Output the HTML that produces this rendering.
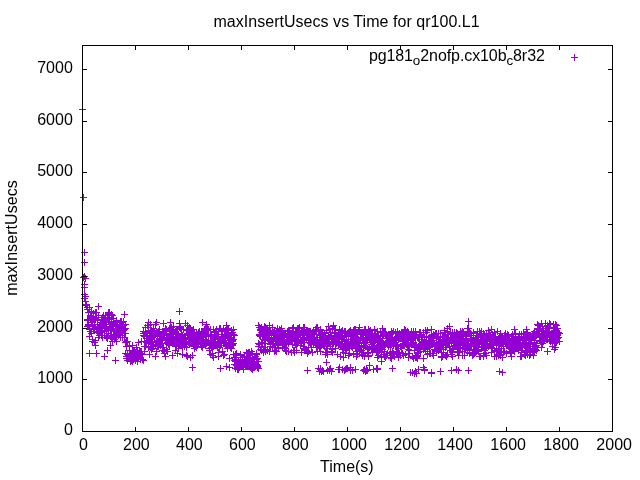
<!DOCTYPE html>
<html><head><meta charset="utf-8"><title>maxInsertUsecs vs Time for qr100.L1</title>
<style>
html,body{margin:0;padding:0;background:#fff;}
body{width:640px;height:480px;overflow:hidden;}
svg{display:block;will-change:transform;}
text{font-family:"Liberation Sans",sans-serif;font-size:16px;fill:#000;}
</style></head><body>
<svg width="640" height="480" viewBox="0 0 640 480">
<rect x="0" y="0" width="640" height="480" fill="#ffffff"/>
<text x="72.8" y="434.9" text-anchor="end">0</text>
<text x="72.8" y="382.9" text-anchor="end">1000</text>
<text x="72.8" y="331.9" text-anchor="end">2000</text>
<text x="72.8" y="279.9" text-anchor="end">3000</text>
<text x="72.8" y="227.9" text-anchor="end">4000</text>
<text x="72.8" y="175.9" text-anchor="end">5000</text>
<text x="72.8" y="124.9" text-anchor="end">6000</text>
<text x="72.8" y="72.9" text-anchor="end">7000</text>
<text x="83.4" y="450" text-anchor="middle">0</text>
<text x="136.4" y="450" text-anchor="middle">200</text>
<text x="189.4" y="450" text-anchor="middle">400</text>
<text x="242.4" y="450" text-anchor="middle">600</text>
<text x="295.4" y="450" text-anchor="middle">800</text>
<text x="349.15" y="450" text-anchor="middle">1000</text>
<text x="402.15" y="450" text-anchor="middle">1200</text>
<text x="455.15" y="450" text-anchor="middle">1400</text>
<text x="508.15" y="450" text-anchor="middle">1600</text>
<text x="561.15" y="450" text-anchor="middle">1800</text>
<text x="614.15" y="450" text-anchor="middle">2000</text>
<text x="346.55" y="27" text-anchor="middle" textLength="266.3">maxInsertUsecs vs Time for qr100.L1</text>
<text x="346.9" y="472" text-anchor="middle">Time(s)</text>
<text transform="translate(16.75,238) rotate(-90)" text-anchor="middle" textLength="115.7">maxInsertUsecs</text>
<text x="369.05" y="61" textLength="43.8">pg181</text><text x="412.85" y="64.8" style="font-size:13.4px">o</text><text x="420.28" y="61" textLength="86.3">2nofp.cx10b</text><text x="506.56" y="64.8" style="font-size:13.4px">c</text><text x="512.97" y="61">8r32</text>
<path d="M571,57.5h7M574.5,54v7M79,109.5h7M82.5,106v7M80,197.5h7M83.5,194v7M81,252.5h7M84.5,249v7M81,262.5h7M84.5,259v7M81,276.5h7M84.5,273v7M80,277.5h7M83.5,274v7M82,278.5h7M85.5,275v7M81,284.5h7M84.5,281v7M81,287.5h7M84.5,284v7M81,294.5h7M84.5,291v7M82,296.5h7M85.5,293v7M81,298.5h7M84.5,295v7M82,301.5h7M85.5,298v7M82,304.5h7M85.5,301v7M83,305.5h7M86.5,302v7M84,307.5h7M87.5,304v7M84,309.5h7M87.5,306v7M86,307.5h7M89.5,304v7M84,319.5h7M87.5,316v7M84,320.5h7M87.5,317v7M84,326.5h7M87.5,323v7M85,320.5h7M88.5,317v7M85,325.5h7M88.5,322v7M85,324.5h7M88.5,321v7M85,312.5h7M88.5,309v7M86,328.5h7M89.5,325v7M86,336.5h7M89.5,333v7M86,329.5h7M89.5,326v7M87,315.5h7M90.5,312v7M87,317.5h7M90.5,314v7M87,318.5h7M90.5,315v7M87,331.5h7M90.5,328v7M88,333.5h7M91.5,330v7M88,316.5h7M91.5,313v7M88,322.5h7M91.5,319v7M88,311.5h7M91.5,308v7M89,319.5h7M92.5,316v7M89,325.5h7M92.5,322v7M89,326.5h7M92.5,323v7M89,341.5h7M92.5,338v7M89,339.5h7M92.5,336v7M90,329.5h7M93.5,326v7M90,313.5h7M93.5,310v7M90,318.5h7M93.5,315v7M91,328.5h7M94.5,325v7M91,328.5h7M94.5,325v7M91,342.5h7M94.5,339v7M91,324.5h7M94.5,321v7M92,345.5h7M95.5,342v7M92,317.5h7M95.5,314v7M92,319.5h7M95.5,316v7M92,340.5h7M95.5,337v7M92,312.5h7M95.5,309v7M93,312.5h7M96.5,309v7M93,317.5h7M96.5,314v7M93,329.5h7M96.5,326v7M93,317.5h7M96.5,314v7M94,332.5h7M97.5,329v7M94,320.5h7M97.5,317v7M94,329.5h7M97.5,326v7M94,329.5h7M97.5,326v7M94,324.5h7M97.5,321v7M95,327.5h7M98.5,324v7M95,331.5h7M98.5,328v7M95,337.5h7M98.5,334v7M95,315.5h7M98.5,312v7M96,329.5h7M99.5,326v7M96,333.5h7M99.5,330v7M96,327.5h7M99.5,324v7M96,331.5h7M99.5,328v7M96,335.5h7M99.5,332v7M97,322.5h7M100.5,319v7M97,331.5h7M100.5,328v7M97,330.5h7M100.5,327v7M97,326.5h7M100.5,323v7M98,326.5h7M101.5,323v7M98,332.5h7M101.5,329v7M98,335.5h7M101.5,332v7M98,319.5h7M101.5,316v7M99,319.5h7M102.5,316v7M99,317.5h7M102.5,314v7M99,337.5h7M102.5,334v7M99,323.5h7M102.5,320v7M100,322.5h7M103.5,319v7M100,319.5h7M103.5,316v7M100,317.5h7M103.5,314v7M100,315.5h7M103.5,312v7M101,328.5h7M104.5,325v7M101,319.5h7M104.5,316v7M101,330.5h7M104.5,327v7M101,331.5h7M104.5,328v7M101,322.5h7M104.5,319v7M102,326.5h7M105.5,323v7M102,315.5h7M105.5,312v7M102,317.5h7M105.5,314v7M102,328.5h7M105.5,325v7M102,321.5h7M105.5,318v7M103,322.5h7M106.5,319v7M103,327.5h7M106.5,324v7M103,337.5h7M106.5,334v7M103,335.5h7M106.5,332v7M104,336.5h7M107.5,333v7M104,315.5h7M107.5,312v7M104,318.5h7M107.5,315v7M104,338.5h7M107.5,335v7M105,314.5h7M108.5,311v7M105,321.5h7M108.5,318v7M105,317.5h7M108.5,314v7M105,312.5h7M108.5,309v7M105,333.5h7M108.5,330v7M106,319.5h7M109.5,316v7M106,312.5h7M109.5,309v7M106,313.5h7M109.5,310v7M106,326.5h7M109.5,323v7M107,336.5h7M110.5,333v7M107,324.5h7M110.5,321v7M107,329.5h7M110.5,326v7M107,329.5h7M110.5,326v7M108,330.5h7M111.5,327v7M108,337.5h7M111.5,334v7M108,315.5h7M111.5,312v7M108,314.5h7M111.5,311v7M108,323.5h7M111.5,320v7M109,315.5h7M112.5,312v7M109,325.5h7M112.5,322v7M109,341.5h7M112.5,338v7M109,338.5h7M112.5,335v7M110,334.5h7M113.5,331v7M110,329.5h7M113.5,326v7M110,324.5h7M113.5,321v7M110,321.5h7M113.5,318v7M110,318.5h7M113.5,315v7M111,336.5h7M114.5,333v7M111,339.5h7M114.5,336v7M111,323.5h7M114.5,320v7M112,337.5h7M115.5,334v7M112,331.5h7M115.5,328v7M112,325.5h7M115.5,322v7M113,320.5h7M116.5,317v7M113,330.5h7M116.5,327v7M113,328.5h7M116.5,325v7M113,332.5h7M116.5,329v7M113,341.5h7M116.5,338v7M114,334.5h7M117.5,331v7M114,330.5h7M117.5,327v7M114,324.5h7M117.5,321v7M115,328.5h7M118.5,325v7M115,331.5h7M118.5,328v7M115,335.5h7M118.5,332v7M115,330.5h7M118.5,327v7M116,331.5h7M119.5,328v7M116,326.5h7M119.5,323v7M116,327.5h7M119.5,324v7M116,334.5h7M119.5,331v7M116,327.5h7M119.5,324v7M117,337.5h7M120.5,334v7M117,331.5h7M120.5,328v7M117,321.5h7M120.5,318v7M117,330.5h7M120.5,327v7M117,324.5h7M120.5,321v7M118,322.5h7M121.5,319v7M118,326.5h7M121.5,323v7M118,321.5h7M121.5,318v7M118,330.5h7M121.5,327v7M119,335.5h7M122.5,332v7M119,326.5h7M122.5,323v7M119,328.5h7M122.5,325v7M119,328.5h7M122.5,325v7M119,337.5h7M122.5,334v7M120,325.5h7M123.5,322v7M120,328.5h7M123.5,325v7M120,330.5h7M123.5,327v7M120,321.5h7M123.5,318v7M121,329.5h7M124.5,326v7M121,337.5h7M124.5,334v7M122,333.5h7M125.5,330v7M122,328.5h7M125.5,325v7M122,342.5h7M125.5,339v7M122,324.5h7M125.5,321v7M122,353.5h7M125.5,350v7M123,346.5h7M126.5,343v7M123,358.5h7M126.5,355v7M123,341.5h7M126.5,338v7M123,356.5h7M126.5,353v7M123,358.5h7M126.5,355v7M124,353.5h7M127.5,350v7M124,354.5h7M127.5,351v7M124,360.5h7M127.5,357v7M124,356.5h7M127.5,353v7M124,341.5h7M127.5,338v7M125,356.5h7M128.5,353v7M125,358.5h7M128.5,355v7M125,356.5h7M128.5,353v7M125,358.5h7M128.5,355v7M126,345.5h7M129.5,342v7M126,350.5h7M129.5,347v7M126,354.5h7M129.5,351v7M126,346.5h7M129.5,343v7M126,350.5h7M129.5,347v7M127,353.5h7M130.5,350v7M127,361.5h7M130.5,358v7M127,353.5h7M130.5,350v7M127,357.5h7M130.5,354v7M127,360.5h7M130.5,357v7M128,357.5h7M131.5,354v7M128,360.5h7M131.5,357v7M128,356.5h7M131.5,353v7M128,354.5h7M131.5,351v7M129,345.5h7M132.5,342v7M129,361.5h7M132.5,358v7M129,359.5h7M132.5,356v7M129,352.5h7M132.5,349v7M130,358.5h7M133.5,355v7M130,355.5h7M133.5,352v7M130,353.5h7M133.5,350v7M130,359.5h7M133.5,356v7M130,351.5h7M133.5,348v7M131,355.5h7M134.5,352v7M131,351.5h7M134.5,348v7M131,355.5h7M134.5,352v7M132,358.5h7M135.5,355v7M132,360.5h7M135.5,357v7M132,358.5h7M135.5,355v7M132,352.5h7M135.5,349v7M133,356.5h7M136.5,353v7M133,352.5h7M136.5,349v7M133,347.5h7M136.5,344v7M134,350.5h7M137.5,347v7M134,357.5h7M137.5,354v7M134,357.5h7M137.5,354v7M134,361.5h7M137.5,358v7M135,358.5h7M138.5,355v7M135,342.5h7M138.5,339v7M135,356.5h7M138.5,353v7M136,353.5h7M139.5,350v7M136,356.5h7M139.5,353v7M136,351.5h7M139.5,348v7M136,356.5h7M139.5,353v7M137,357.5h7M140.5,354v7M137,353.5h7M140.5,350v7M137,359.5h7M140.5,356v7M137,351.5h7M140.5,348v7M138,354.5h7M141.5,351v7M138,351.5h7M141.5,348v7M138,341.5h7M141.5,338v7M139,359.5h7M142.5,356v7M139,354.5h7M142.5,351v7M140,360.5h7M143.5,357v7M140,331.5h7M143.5,328v7M140,335.5h7M143.5,332v7M140,333.5h7M143.5,330v7M141,351.5h7M144.5,348v7M141,346.5h7M144.5,343v7M141,336.5h7M144.5,333v7M141,341.5h7M144.5,338v7M141,335.5h7M144.5,332v7M142,346.5h7M145.5,343v7M142,333.5h7M145.5,330v7M142,327.5h7M145.5,324v7M142,331.5h7M145.5,328v7M142,332.5h7M145.5,329v7M143,333.5h7M146.5,330v7M143,338.5h7M146.5,335v7M143,333.5h7M146.5,330v7M143,342.5h7M146.5,339v7M144,325.5h7M147.5,322v7M144,340.5h7M147.5,337v7M144,333.5h7M147.5,330v7M144,338.5h7M147.5,335v7M144,333.5h7M147.5,330v7M145,338.5h7M148.5,335v7M145,327.5h7M148.5,324v7M145,325.5h7M148.5,322v7M145,322.5h7M148.5,319v7M145,347.5h7M148.5,344v7M146,341.5h7M149.5,338v7M146,354.5h7M149.5,351v7M146,336.5h7M149.5,333v7M146,333.5h7M149.5,330v7M147,339.5h7M150.5,336v7M147,343.5h7M150.5,340v7M147,324.5h7M150.5,321v7M147,347.5h7M150.5,344v7M147,331.5h7M150.5,328v7M148,346.5h7M151.5,343v7M148,349.5h7M151.5,346v7M148,330.5h7M151.5,327v7M148,339.5h7M151.5,336v7M148,338.5h7M151.5,335v7M149,341.5h7M152.5,338v7M149,348.5h7M152.5,345v7M149,334.5h7M152.5,331v7M149,346.5h7M152.5,343v7M149,332.5h7M152.5,329v7M150,344.5h7M153.5,341v7M150,330.5h7M153.5,327v7M150,328.5h7M153.5,325v7M150,335.5h7M153.5,332v7M151,334.5h7M154.5,331v7M151,334.5h7M154.5,331v7M151,333.5h7M154.5,330v7M151,332.5h7M154.5,329v7M151,336.5h7M154.5,333v7M152,334.5h7M155.5,331v7M152,345.5h7M155.5,342v7M152,356.5h7M155.5,353v7M152,334.5h7M155.5,331v7M152,324.5h7M155.5,321v7M153,341.5h7M156.5,338v7M153,351.5h7M156.5,348v7M153,322.5h7M156.5,319v7M153,342.5h7M156.5,339v7M154,332.5h7M157.5,329v7M154,344.5h7M157.5,341v7M154,345.5h7M157.5,342v7M154,340.5h7M157.5,337v7M154,346.5h7M157.5,343v7M155,346.5h7M158.5,343v7M155,342.5h7M158.5,339v7M155,331.5h7M158.5,328v7M155,333.5h7M158.5,330v7M155,341.5h7M158.5,338v7M156,339.5h7M159.5,336v7M156,329.5h7M159.5,326v7M156,344.5h7M159.5,341v7M156,344.5h7M159.5,341v7M156,336.5h7M159.5,333v7M157,345.5h7M160.5,342v7M157,339.5h7M160.5,336v7M157,339.5h7M160.5,336v7M157,338.5h7M160.5,335v7M158,336.5h7M161.5,333v7M158,343.5h7M161.5,340v7M158,339.5h7M161.5,336v7M158,340.5h7M161.5,337v7M158,343.5h7M161.5,340v7M159,338.5h7M162.5,335v7M159,332.5h7M162.5,329v7M159,338.5h7M162.5,335v7M159,350.5h7M162.5,347v7M159,343.5h7M162.5,340v7M160,350.5h7M163.5,347v7M160,347.5h7M163.5,344v7M160,323.5h7M163.5,320v7M160,334.5h7M163.5,331v7M161,353.5h7M164.5,350v7M161,333.5h7M164.5,330v7M161,335.5h7M164.5,332v7M161,334.5h7M164.5,331v7M161,351.5h7M164.5,348v7M162,331.5h7M165.5,328v7M162,356.5h7M165.5,353v7M162,330.5h7M165.5,327v7M162,328.5h7M165.5,325v7M162,330.5h7M165.5,327v7M163,349.5h7M166.5,346v7M163,329.5h7M166.5,326v7M163,340.5h7M166.5,337v7M163,339.5h7M166.5,336v7M163,337.5h7M166.5,334v7M164,338.5h7M167.5,335v7M164,351.5h7M167.5,348v7M164,342.5h7M167.5,339v7M164,338.5h7M167.5,335v7M165,339.5h7M168.5,336v7M165,338.5h7M168.5,335v7M165,344.5h7M168.5,341v7M165,341.5h7M168.5,338v7M165,337.5h7M168.5,334v7M166,328.5h7M169.5,325v7M166,345.5h7M169.5,342v7M166,340.5h7M169.5,337v7M166,333.5h7M169.5,330v7M166,341.5h7M169.5,338v7M167,336.5h7M170.5,333v7M167,336.5h7M170.5,333v7M167,328.5h7M170.5,325v7M167,322.5h7M170.5,319v7M168,327.5h7M171.5,324v7M168,336.5h7M171.5,333v7M168,334.5h7M171.5,331v7M168,329.5h7M171.5,326v7M168,334.5h7M171.5,331v7M169,355.5h7M172.5,352v7M169,338.5h7M172.5,335v7M169,341.5h7M172.5,338v7M169,332.5h7M172.5,329v7M169,343.5h7M172.5,340v7M170,326.5h7M173.5,323v7M170,337.5h7M173.5,334v7M170,330.5h7M173.5,327v7M170,337.5h7M173.5,334v7M170,342.5h7M173.5,339v7M171,342.5h7M174.5,339v7M171,341.5h7M174.5,338v7M171,340.5h7M174.5,337v7M171,340.5h7M174.5,337v7M172,344.5h7M175.5,341v7M172,333.5h7M175.5,330v7M172,350.5h7M175.5,347v7M172,331.5h7M175.5,328v7M172,332.5h7M175.5,329v7M173,339.5h7M176.5,336v7M173,329.5h7M176.5,326v7M173,345.5h7M176.5,342v7M173,346.5h7M176.5,343v7M173,341.5h7M176.5,338v7M174,329.5h7M177.5,326v7M174,336.5h7M177.5,333v7M174,353.5h7M177.5,350v7M174,333.5h7M177.5,330v7M175,348.5h7M178.5,345v7M175,342.5h7M178.5,339v7M175,335.5h7M178.5,332v7M175,334.5h7M178.5,331v7M175,341.5h7M178.5,338v7M176,327.5h7M179.5,324v7M176,337.5h7M179.5,334v7M176,336.5h7M179.5,333v7M176,323.5h7M179.5,320v7M176,344.5h7M179.5,341v7M177,326.5h7M180.5,323v7M177,339.5h7M180.5,336v7M177,343.5h7M180.5,340v7M177,328.5h7M180.5,325v7M177,338.5h7M180.5,335v7M178,337.5h7M181.5,334v7M178,345.5h7M181.5,342v7M178,329.5h7M181.5,326v7M178,334.5h7M181.5,331v7M179,344.5h7M182.5,341v7M179,354.5h7M182.5,351v7M179,347.5h7M182.5,344v7M179,341.5h7M182.5,338v7M179,335.5h7M182.5,332v7M180,343.5h7M183.5,340v7M180,342.5h7M183.5,339v7M180,341.5h7M183.5,338v7M180,338.5h7M183.5,335v7M180,329.5h7M183.5,326v7M181,346.5h7M184.5,343v7M181,338.5h7M184.5,335v7M181,338.5h7M184.5,335v7M181,339.5h7M184.5,336v7M182,341.5h7M185.5,338v7M182,343.5h7M185.5,340v7M182,344.5h7M185.5,341v7M182,323.5h7M185.5,320v7M182,337.5h7M185.5,334v7M183,355.5h7M186.5,352v7M183,343.5h7M186.5,340v7M183,330.5h7M186.5,327v7M183,347.5h7M186.5,344v7M183,344.5h7M186.5,341v7M184,329.5h7M187.5,326v7M184,333.5h7M187.5,330v7M184,335.5h7M187.5,332v7M184,325.5h7M187.5,322v7M184,356.5h7M187.5,353v7M185,334.5h7M188.5,331v7M185,335.5h7M188.5,332v7M185,329.5h7M188.5,326v7M185,342.5h7M188.5,339v7M186,344.5h7M189.5,341v7M186,330.5h7M189.5,327v7M186,327.5h7M189.5,324v7M186,337.5h7M189.5,334v7M186,333.5h7M189.5,330v7M187,339.5h7M190.5,336v7M187,330.5h7M190.5,327v7M187,328.5h7M190.5,325v7M187,357.5h7M190.5,354v7M187,343.5h7M190.5,340v7M188,343.5h7M191.5,340v7M188,336.5h7M191.5,333v7M188,336.5h7M191.5,333v7M188,337.5h7M191.5,334v7M188,331.5h7M191.5,328v7M189,340.5h7M192.5,337v7M189,355.5h7M192.5,352v7M189,335.5h7M192.5,332v7M189,335.5h7M192.5,332v7M190,329.5h7M193.5,326v7M190,337.5h7M193.5,334v7M190,345.5h7M193.5,342v7M190,335.5h7M193.5,332v7M190,340.5h7M193.5,337v7M191,343.5h7M194.5,340v7M191,346.5h7M194.5,343v7M191,332.5h7M194.5,329v7M191,342.5h7M194.5,339v7M191,348.5h7M194.5,345v7M192,339.5h7M195.5,336v7M192,335.5h7M195.5,332v7M192,338.5h7M195.5,335v7M192,346.5h7M195.5,343v7M193,339.5h7M196.5,336v7M193,338.5h7M196.5,335v7M193,332.5h7M196.5,329v7M193,347.5h7M196.5,344v7M193,342.5h7M196.5,339v7M194,341.5h7M197.5,338v7M194,343.5h7M197.5,340v7M194,335.5h7M197.5,332v7M194,339.5h7M197.5,336v7M194,336.5h7M197.5,333v7M195,342.5h7M198.5,339v7M195,332.5h7M198.5,329v7M195,341.5h7M198.5,338v7M195,341.5h7M198.5,338v7M195,336.5h7M198.5,333v7M196,331.5h7M199.5,328v7M196,337.5h7M199.5,334v7M196,337.5h7M199.5,334v7M196,341.5h7M199.5,338v7M197,334.5h7M200.5,331v7M197,335.5h7M200.5,332v7M197,339.5h7M200.5,336v7M197,337.5h7M200.5,334v7M197,344.5h7M200.5,341v7M198,331.5h7M201.5,328v7M198,339.5h7M201.5,336v7M198,346.5h7M201.5,343v7M198,343.5h7M201.5,340v7M198,335.5h7M201.5,332v7M199,331.5h7M202.5,328v7M199,347.5h7M202.5,344v7M199,322.5h7M202.5,319v7M199,340.5h7M202.5,337v7M200,331.5h7M203.5,328v7M200,337.5h7M203.5,334v7M200,341.5h7M203.5,338v7M200,336.5h7M203.5,333v7M200,336.5h7M203.5,333v7M201,329.5h7M204.5,326v7M201,329.5h7M204.5,326v7M201,344.5h7M204.5,341v7M201,333.5h7M204.5,330v7M201,344.5h7M204.5,341v7M202,328.5h7M205.5,325v7M202,336.5h7M205.5,333v7M202,344.5h7M205.5,341v7M202,345.5h7M205.5,342v7M202,335.5h7M205.5,332v7M203,343.5h7M206.5,340v7M203,334.5h7M206.5,331v7M203,336.5h7M206.5,333v7M203,324.5h7M206.5,321v7M204,330.5h7M207.5,327v7M204,330.5h7M207.5,327v7M204,330.5h7M207.5,327v7M204,342.5h7M207.5,339v7M204,328.5h7M207.5,325v7M205,335.5h7M208.5,332v7M205,335.5h7M208.5,332v7M205,341.5h7M208.5,338v7M205,340.5h7M208.5,337v7M205,329.5h7M208.5,326v7M206,348.5h7M209.5,345v7M206,350.5h7M209.5,347v7M206,343.5h7M209.5,340v7M206,345.5h7M209.5,342v7M207,354.5h7M210.5,351v7M207,336.5h7M210.5,333v7M207,334.5h7M210.5,331v7M207,341.5h7M210.5,338v7M207,329.5h7M210.5,326v7M208,347.5h7M211.5,344v7M208,335.5h7M211.5,332v7M208,345.5h7M211.5,342v7M208,342.5h7M211.5,339v7M208,334.5h7M211.5,331v7M209,353.5h7M212.5,350v7M209,355.5h7M212.5,352v7M209,341.5h7M212.5,338v7M209,347.5h7M212.5,344v7M209,348.5h7M212.5,345v7M210,357.5h7M213.5,354v7M210,341.5h7M213.5,338v7M210,329.5h7M213.5,326v7M210,346.5h7M213.5,343v7M211,338.5h7M214.5,335v7M211,344.5h7M214.5,341v7M211,332.5h7M214.5,329v7M211,337.5h7M214.5,334v7M211,344.5h7M214.5,341v7M212,331.5h7M215.5,328v7M212,341.5h7M215.5,338v7M212,343.5h7M215.5,340v7M212,337.5h7M215.5,334v7M212,344.5h7M215.5,341v7M213,334.5h7M216.5,331v7M213,336.5h7M216.5,333v7M213,345.5h7M216.5,342v7M213,329.5h7M216.5,326v7M214,347.5h7M217.5,344v7M214,336.5h7M217.5,333v7M214,342.5h7M217.5,339v7M214,346.5h7M217.5,343v7M214,345.5h7M217.5,342v7M215,356.5h7M218.5,353v7M215,331.5h7M218.5,328v7M215,337.5h7M218.5,334v7M215,341.5h7M218.5,338v7M215,352.5h7M218.5,349v7M216,341.5h7M219.5,338v7M216,345.5h7M219.5,342v7M216,347.5h7M219.5,344v7M216,328.5h7M219.5,325v7M216,343.5h7M219.5,340v7M217,328.5h7M220.5,325v7M217,342.5h7M220.5,339v7M217,345.5h7M220.5,342v7M217,341.5h7M220.5,338v7M218,338.5h7M221.5,335v7M218,343.5h7M221.5,340v7M218,331.5h7M221.5,328v7M218,334.5h7M221.5,331v7M218,339.5h7M221.5,336v7M219,336.5h7M222.5,333v7M219,336.5h7M222.5,333v7M219,334.5h7M222.5,331v7M219,351.5h7M222.5,348v7M219,331.5h7M222.5,328v7M220,328.5h7M223.5,325v7M220,342.5h7M223.5,339v7M220,343.5h7M223.5,340v7M220,355.5h7M223.5,352v7M221,340.5h7M224.5,337v7M221,335.5h7M224.5,332v7M221,336.5h7M224.5,333v7M221,342.5h7M224.5,339v7M221,354.5h7M224.5,351v7M222,331.5h7M225.5,328v7M222,337.5h7M225.5,334v7M222,345.5h7M225.5,342v7M222,338.5h7M225.5,335v7M222,330.5h7M225.5,327v7M223,344.5h7M226.5,341v7M223,325.5h7M226.5,322v7M223,334.5h7M226.5,331v7M223,329.5h7M226.5,326v7M223,345.5h7M226.5,342v7M224,346.5h7M227.5,343v7M224,337.5h7M227.5,334v7M224,329.5h7M227.5,326v7M224,348.5h7M227.5,345v7M225,333.5h7M228.5,330v7M225,338.5h7M228.5,335v7M225,342.5h7M228.5,339v7M225,328.5h7M228.5,325v7M225,334.5h7M228.5,331v7M226,335.5h7M229.5,332v7M226,358.5h7M229.5,355v7M226,344.5h7M229.5,341v7M226,337.5h7M229.5,334v7M226,344.5h7M229.5,341v7M227,337.5h7M230.5,334v7M227,339.5h7M230.5,336v7M227,347.5h7M230.5,344v7M227,342.5h7M230.5,339v7M228,330.5h7M231.5,327v7M228,340.5h7M231.5,337v7M228,333.5h7M231.5,330v7M228,348.5h7M231.5,345v7M228,334.5h7M231.5,331v7M229,340.5h7M232.5,337v7M229,341.5h7M232.5,338v7M229,345.5h7M232.5,342v7M229,344.5h7M232.5,341v7M229,332.5h7M232.5,329v7M230,354.5h7M233.5,351v7M230,329.5h7M233.5,326v7M230,334.5h7M233.5,331v7M230,339.5h7M233.5,336v7M230,343.5h7M233.5,340v7M231,335.5h7M234.5,332v7M231,360.5h7M234.5,357v7M231,364.5h7M234.5,361v7M231,357.5h7M234.5,354v7M232,359.5h7M235.5,356v7M232,354.5h7M235.5,351v7M232,361.5h7M235.5,358v7M232,354.5h7M235.5,351v7M232,368.5h7M235.5,365v7M233,364.5h7M236.5,361v7M233,353.5h7M236.5,350v7M233,361.5h7M236.5,358v7M233,355.5h7M236.5,352v7M233,365.5h7M236.5,362v7M234,369.5h7M237.5,366v7M234,363.5h7M237.5,360v7M234,367.5h7M237.5,364v7M234,369.5h7M237.5,366v7M235,369.5h7M238.5,366v7M235,360.5h7M238.5,357v7M235,361.5h7M238.5,358v7M235,368.5h7M238.5,365v7M235,367.5h7M238.5,364v7M236,367.5h7M239.5,364v7M236,365.5h7M239.5,362v7M236,365.5h7M239.5,362v7M236,367.5h7M239.5,364v7M236,362.5h7M239.5,359v7M237,366.5h7M240.5,363v7M237,354.5h7M240.5,351v7M237,355.5h7M240.5,352v7M237,357.5h7M240.5,354v7M237,357.5h7M240.5,354v7M238,364.5h7M241.5,361v7M238,363.5h7M241.5,360v7M238,366.5h7M241.5,363v7M238,365.5h7M241.5,362v7M239,364.5h7M242.5,361v7M239,364.5h7M242.5,361v7M239,359.5h7M242.5,356v7M239,366.5h7M242.5,363v7M239,366.5h7M242.5,363v7M240,369.5h7M243.5,366v7M240,363.5h7M243.5,360v7M240,366.5h7M243.5,363v7M240,367.5h7M243.5,364v7M240,363.5h7M243.5,360v7M241,364.5h7M244.5,361v7M241,363.5h7M244.5,360v7M241,356.5h7M244.5,353v7M241,361.5h7M244.5,358v7M241,364.5h7M244.5,361v7M242,361.5h7M245.5,358v7M242,360.5h7M245.5,357v7M242,365.5h7M245.5,362v7M242,363.5h7M245.5,360v7M243,362.5h7M246.5,359v7M243,366.5h7M246.5,363v7M243,359.5h7M246.5,356v7M243,352.5h7M246.5,349v7M243,361.5h7M246.5,358v7M244,361.5h7M247.5,358v7M244,366.5h7M247.5,363v7M244,359.5h7M247.5,356v7M244,366.5h7M247.5,363v7M244,353.5h7M247.5,350v7M245,359.5h7M248.5,356v7M245,352.5h7M248.5,349v7M245,366.5h7M248.5,363v7M245,366.5h7M248.5,363v7M246,352.5h7M249.5,349v7M246,357.5h7M249.5,354v7M246,355.5h7M249.5,352v7M246,365.5h7M249.5,362v7M246,366.5h7M249.5,363v7M247,367.5h7M250.5,364v7M247,365.5h7M250.5,362v7M247,357.5h7M250.5,354v7M247,366.5h7M250.5,363v7M247,364.5h7M250.5,361v7M248,351.5h7M251.5,348v7M248,361.5h7M251.5,358v7M248,368.5h7M251.5,365v7M248,367.5h7M251.5,364v7M248,360.5h7M251.5,357v7M249,369.5h7M252.5,366v7M249,364.5h7M252.5,361v7M249,353.5h7M252.5,350v7M249,357.5h7M252.5,354v7M250,362.5h7M253.5,359v7M250,367.5h7M253.5,364v7M250,364.5h7M253.5,361v7M250,366.5h7M253.5,363v7M250,364.5h7M253.5,361v7M251,358.5h7M254.5,355v7M251,367.5h7M254.5,364v7M251,361.5h7M254.5,358v7M251,362.5h7M254.5,359v7M251,362.5h7M254.5,359v7M252,364.5h7M255.5,361v7M252,366.5h7M255.5,363v7M252,364.5h7M255.5,361v7M252,356.5h7M255.5,353v7M253,364.5h7M256.5,361v7M253,354.5h7M256.5,351v7M253,365.5h7M256.5,362v7M253,359.5h7M256.5,356v7M253,353.5h7M256.5,350v7M254,366.5h7M257.5,363v7M254,367.5h7M257.5,364v7M254,365.5h7M257.5,362v7M254,358.5h7M257.5,355v7M254,367.5h7M257.5,364v7M255,361.5h7M258.5,358v7M255,368.5h7M258.5,365v7M255,346.5h7M258.5,343v7M255,325.5h7M258.5,322v7M255,343.5h7M258.5,340v7M256,327.5h7M259.5,324v7M256,335.5h7M259.5,332v7M256,334.5h7M259.5,331v7M256,344.5h7M259.5,341v7M257,329.5h7M260.5,326v7M257,330.5h7M260.5,327v7M257,349.5h7M260.5,346v7M257,335.5h7M260.5,332v7M257,336.5h7M260.5,333v7M258,342.5h7M261.5,339v7M258,346.5h7M261.5,343v7M258,327.5h7M261.5,324v7M258,350.5h7M261.5,347v7M258,332.5h7M261.5,329v7M259,336.5h7M262.5,333v7M259,342.5h7M262.5,339v7M259,329.5h7M262.5,326v7M259,330.5h7M262.5,327v7M260,329.5h7M263.5,326v7M260,336.5h7M263.5,333v7M260,352.5h7M263.5,349v7M260,350.5h7M263.5,347v7M260,331.5h7M263.5,328v7M261,347.5h7M264.5,344v7M261,336.5h7M264.5,333v7M261,340.5h7M264.5,337v7M261,334.5h7M264.5,331v7M261,326.5h7M264.5,323v7M262,343.5h7M265.5,340v7M262,339.5h7M265.5,336v7M262,328.5h7M265.5,325v7M262,351.5h7M265.5,348v7M262,327.5h7M265.5,324v7M263,335.5h7M266.5,332v7M263,336.5h7M266.5,333v7M263,329.5h7M266.5,326v7M263,336.5h7M266.5,333v7M264,349.5h7M267.5,346v7M264,332.5h7M267.5,329v7M264,335.5h7M267.5,332v7M264,350.5h7M267.5,347v7M264,333.5h7M267.5,330v7M265,334.5h7M268.5,331v7M265,331.5h7M268.5,328v7M265,339.5h7M268.5,336v7M265,337.5h7M268.5,334v7M265,337.5h7M268.5,334v7M266,339.5h7M269.5,336v7M266,333.5h7M269.5,330v7M266,351.5h7M269.5,348v7M266,325.5h7M269.5,322v7M267,341.5h7M270.5,338v7M267,346.5h7M270.5,343v7M267,341.5h7M270.5,338v7M267,344.5h7M270.5,341v7M267,330.5h7M270.5,327v7M268,337.5h7M271.5,334v7M268,339.5h7M271.5,336v7M268,339.5h7M271.5,336v7M268,333.5h7M271.5,330v7M268,339.5h7M271.5,336v7M269,347.5h7M272.5,344v7M269,327.5h7M272.5,324v7M269,343.5h7M272.5,340v7M269,347.5h7M272.5,344v7M269,332.5h7M272.5,329v7M270,338.5h7M273.5,335v7M270,343.5h7M273.5,340v7M270,334.5h7M273.5,331v7M270,332.5h7M273.5,329v7M271,332.5h7M274.5,329v7M271,331.5h7M274.5,328v7M271,347.5h7M274.5,344v7M271,351.5h7M274.5,348v7M271,335.5h7M274.5,332v7M272,350.5h7M275.5,347v7M272,335.5h7M275.5,332v7M272,337.5h7M275.5,334v7M272,345.5h7M275.5,342v7M272,333.5h7M275.5,330v7M273,341.5h7M276.5,338v7M273,351.5h7M276.5,348v7M273,332.5h7M276.5,329v7M273,337.5h7M276.5,334v7M274,333.5h7M277.5,330v7M274,343.5h7M277.5,340v7M274,328.5h7M277.5,325v7M274,340.5h7M277.5,337v7M274,335.5h7M277.5,332v7M275,340.5h7M278.5,337v7M275,340.5h7M278.5,337v7M275,348.5h7M278.5,345v7M275,345.5h7M278.5,342v7M275,340.5h7M278.5,337v7M276,329.5h7M279.5,326v7M276,342.5h7M279.5,339v7M276,329.5h7M279.5,326v7M276,341.5h7M279.5,338v7M276,333.5h7M279.5,330v7M277,330.5h7M280.5,327v7M277,337.5h7M280.5,334v7M277,340.5h7M280.5,337v7M277,334.5h7M280.5,331v7M278,328.5h7M281.5,325v7M278,336.5h7M281.5,333v7M278,336.5h7M281.5,333v7M278,331.5h7M281.5,328v7M278,334.5h7M281.5,331v7M279,345.5h7M282.5,342v7M279,334.5h7M282.5,331v7M279,335.5h7M282.5,332v7M279,340.5h7M282.5,337v7M279,347.5h7M282.5,344v7M280,334.5h7M283.5,331v7M280,339.5h7M283.5,336v7M280,344.5h7M283.5,341v7M280,342.5h7M283.5,339v7M281,333.5h7M284.5,330v7M281,343.5h7M284.5,340v7M281,348.5h7M284.5,345v7M281,347.5h7M284.5,344v7M281,341.5h7M284.5,338v7M282,334.5h7M285.5,331v7M282,343.5h7M285.5,340v7M282,350.5h7M285.5,347v7M282,333.5h7M285.5,330v7M282,343.5h7M285.5,340v7M283,344.5h7M286.5,341v7M283,340.5h7M286.5,337v7M283,337.5h7M286.5,334v7M283,341.5h7M286.5,338v7M283,351.5h7M286.5,348v7M284,334.5h7M287.5,331v7M284,337.5h7M287.5,334v7M284,331.5h7M287.5,328v7M284,341.5h7M287.5,338v7M285,335.5h7M288.5,332v7M285,341.5h7M288.5,338v7M285,330.5h7M288.5,327v7M285,351.5h7M288.5,348v7M285,343.5h7M288.5,340v7M286,333.5h7M289.5,330v7M286,334.5h7M289.5,331v7M286,339.5h7M289.5,336v7M286,334.5h7M289.5,331v7M286,330.5h7M289.5,327v7M287,334.5h7M290.5,331v7M287,341.5h7M290.5,338v7M287,338.5h7M290.5,335v7M287,335.5h7M290.5,332v7M288,337.5h7M291.5,334v7M288,341.5h7M291.5,338v7M288,333.5h7M291.5,330v7M288,337.5h7M291.5,334v7M288,352.5h7M291.5,349v7M289,328.5h7M292.5,325v7M289,340.5h7M292.5,337v7M289,337.5h7M292.5,334v7M289,334.5h7M292.5,331v7M289,344.5h7M292.5,341v7M290,335.5h7M293.5,332v7M290,350.5h7M293.5,347v7M290,327.5h7M293.5,324v7M290,334.5h7M293.5,331v7M290,336.5h7M293.5,333v7M291,341.5h7M294.5,338v7M291,352.5h7M294.5,349v7M291,340.5h7M294.5,337v7M291,350.5h7M294.5,347v7M292,339.5h7M295.5,336v7M292,332.5h7M295.5,329v7M292,340.5h7M295.5,337v7M292,344.5h7M295.5,341v7M292,338.5h7M295.5,335v7M293,345.5h7M296.5,342v7M293,350.5h7M296.5,347v7M293,331.5h7M296.5,328v7M293,341.5h7M296.5,338v7M293,340.5h7M296.5,337v7M294,343.5h7M297.5,340v7M294,342.5h7M297.5,339v7M294,328.5h7M297.5,325v7M294,339.5h7M297.5,336v7M294,337.5h7M297.5,334v7M295,333.5h7M298.5,330v7M295,328.5h7M298.5,325v7M295,331.5h7M298.5,328v7M295,340.5h7M298.5,337v7M296,331.5h7M299.5,328v7M296,334.5h7M299.5,331v7M296,334.5h7M299.5,331v7M296,327.5h7M299.5,324v7M296,330.5h7M299.5,327v7M297,345.5h7M300.5,342v7M297,339.5h7M300.5,336v7M297,340.5h7M300.5,337v7M297,342.5h7M300.5,339v7M297,337.5h7M300.5,334v7M298,332.5h7M301.5,329v7M298,341.5h7M301.5,338v7M298,342.5h7M301.5,339v7M298,352.5h7M301.5,349v7M299,330.5h7M302.5,327v7M299,340.5h7M302.5,337v7M299,334.5h7M302.5,331v7M299,332.5h7M302.5,329v7M299,340.5h7M302.5,337v7M300,346.5h7M303.5,343v7M300,335.5h7M303.5,332v7M300,327.5h7M303.5,324v7M300,330.5h7M303.5,327v7M300,335.5h7M303.5,332v7M301,327.5h7M304.5,324v7M301,348.5h7M304.5,345v7M301,339.5h7M304.5,336v7M301,342.5h7M304.5,339v7M301,337.5h7M304.5,334v7M302,350.5h7M305.5,347v7M302,332.5h7M305.5,329v7M302,349.5h7M305.5,346v7M302,350.5h7M305.5,347v7M303,338.5h7M306.5,335v7M303,337.5h7M306.5,334v7M303,330.5h7M306.5,327v7M303,335.5h7M306.5,332v7M303,350.5h7M306.5,347v7M304,333.5h7M307.5,330v7M304,335.5h7M307.5,332v7M304,353.5h7M307.5,350v7M304,337.5h7M307.5,334v7M304,331.5h7M307.5,328v7M305,351.5h7M308.5,348v7M305,331.5h7M308.5,328v7M305,342.5h7M308.5,339v7M305,347.5h7M308.5,344v7M306,337.5h7M309.5,334v7M306,336.5h7M309.5,333v7M306,342.5h7M309.5,339v7M306,335.5h7M309.5,332v7M306,331.5h7M309.5,328v7M307,334.5h7M310.5,331v7M307,338.5h7M310.5,335v7M307,331.5h7M310.5,328v7M307,343.5h7M310.5,340v7M307,335.5h7M310.5,332v7M308,336.5h7M311.5,333v7M308,339.5h7M311.5,336v7M308,347.5h7M311.5,344v7M308,347.5h7M311.5,344v7M308,341.5h7M311.5,338v7M309,333.5h7M312.5,330v7M309,338.5h7M312.5,335v7M309,352.5h7M312.5,349v7M309,339.5h7M312.5,336v7M310,337.5h7M313.5,334v7M310,332.5h7M313.5,329v7M310,344.5h7M313.5,341v7M310,330.5h7M313.5,327v7M310,334.5h7M313.5,331v7M311,342.5h7M314.5,339v7M311,342.5h7M314.5,339v7M311,339.5h7M314.5,336v7M311,342.5h7M314.5,339v7M311,338.5h7M314.5,335v7M312,331.5h7M315.5,328v7M312,329.5h7M315.5,326v7M312,344.5h7M315.5,341v7M312,329.5h7M315.5,326v7M313,337.5h7M316.5,334v7M313,327.5h7M316.5,324v7M313,347.5h7M316.5,344v7M313,340.5h7M316.5,337v7M313,331.5h7M316.5,328v7M314,340.5h7M317.5,337v7M314,337.5h7M317.5,334v7M314,351.5h7M317.5,348v7M314,327.5h7M317.5,324v7M314,337.5h7M317.5,334v7M315,345.5h7M318.5,342v7M315,331.5h7M318.5,328v7M315,331.5h7M318.5,328v7M315,330.5h7M318.5,327v7M315,331.5h7M318.5,328v7M316,341.5h7M319.5,338v7M316,347.5h7M319.5,344v7M316,340.5h7M319.5,337v7M316,335.5h7M319.5,332v7M317,351.5h7M320.5,348v7M317,342.5h7M320.5,339v7M317,346.5h7M320.5,343v7M317,329.5h7M320.5,326v7M317,334.5h7M320.5,331v7M318,339.5h7M321.5,336v7M318,343.5h7M321.5,340v7M318,345.5h7M321.5,342v7M318,342.5h7M321.5,339v7M318,334.5h7M321.5,331v7M319,342.5h7M322.5,339v7M319,334.5h7M322.5,331v7M319,332.5h7M322.5,329v7M319,338.5h7M322.5,335v7M320,342.5h7M323.5,339v7M320,335.5h7M323.5,332v7M320,342.5h7M323.5,339v7M320,335.5h7M323.5,332v7M320,345.5h7M323.5,342v7M321,346.5h7M324.5,343v7M321,344.5h7M324.5,341v7M321,346.5h7M324.5,343v7M321,340.5h7M324.5,337v7M321,333.5h7M324.5,330v7M322,354.5h7M325.5,351v7M322,336.5h7M325.5,333v7M322,338.5h7M325.5,335v7M322,352.5h7M325.5,349v7M322,341.5h7M325.5,338v7M323,330.5h7M326.5,327v7M323,352.5h7M326.5,349v7M323,346.5h7M326.5,343v7M323,341.5h7M326.5,338v7M324,354.5h7M327.5,351v7M324,345.5h7M327.5,342v7M324,343.5h7M327.5,340v7M324,348.5h7M327.5,345v7M324,352.5h7M327.5,349v7M325,326.5h7M328.5,323v7M325,337.5h7M328.5,334v7M325,341.5h7M328.5,338v7M325,339.5h7M328.5,336v7M325,335.5h7M328.5,332v7M326,329.5h7M329.5,326v7M326,342.5h7M329.5,339v7M326,337.5h7M329.5,334v7M326,339.5h7M329.5,336v7M327,346.5h7M330.5,343v7M327,344.5h7M330.5,341v7M327,332.5h7M330.5,329v7M327,336.5h7M330.5,333v7M327,344.5h7M330.5,341v7M328,339.5h7M331.5,336v7M328,351.5h7M331.5,348v7M328,336.5h7M331.5,333v7M328,338.5h7M331.5,335v7M328,341.5h7M331.5,338v7M329,341.5h7M332.5,338v7M329,352.5h7M332.5,349v7M329,349.5h7M332.5,346v7M329,328.5h7M332.5,325v7M329,344.5h7M332.5,341v7M330,325.5h7M333.5,322v7M330,343.5h7M333.5,340v7M330,343.5h7M333.5,340v7M330,343.5h7M333.5,340v7M331,337.5h7M334.5,334v7M331,333.5h7M334.5,330v7M331,339.5h7M334.5,336v7M331,329.5h7M334.5,326v7M331,335.5h7M334.5,332v7M332,348.5h7M335.5,345v7M332,337.5h7M335.5,334v7M332,329.5h7M335.5,326v7M332,344.5h7M335.5,341v7M332,337.5h7M335.5,334v7M333,342.5h7M336.5,339v7M333,343.5h7M336.5,340v7M333,335.5h7M336.5,332v7M333,335.5h7M336.5,332v7M334,335.5h7M337.5,332v7M334,341.5h7M337.5,338v7M334,335.5h7M337.5,332v7M334,336.5h7M337.5,333v7M334,354.5h7M337.5,351v7M335,345.5h7M338.5,342v7M335,338.5h7M338.5,335v7M335,343.5h7M338.5,340v7M335,333.5h7M338.5,330v7M335,343.5h7M338.5,340v7M336,330.5h7M339.5,327v7M336,329.5h7M339.5,326v7M336,334.5h7M339.5,331v7M336,343.5h7M339.5,340v7M336,334.5h7M339.5,331v7M337,336.5h7M340.5,333v7M337,356.5h7M340.5,353v7M337,344.5h7M340.5,341v7M337,332.5h7M340.5,329v7M338,333.5h7M341.5,330v7M338,338.5h7M341.5,335v7M338,344.5h7M341.5,341v7M338,331.5h7M341.5,328v7M338,343.5h7M341.5,340v7M339,347.5h7M342.5,344v7M339,337.5h7M342.5,334v7M339,349.5h7M342.5,346v7M339,330.5h7M342.5,327v7M339,339.5h7M342.5,336v7M340,348.5h7M343.5,345v7M340,357.5h7M343.5,354v7M340,349.5h7M343.5,346v7M340,352.5h7M343.5,349v7M341,341.5h7M344.5,338v7M341,335.5h7M344.5,332v7M341,347.5h7M344.5,344v7M341,331.5h7M344.5,328v7M341,340.5h7M344.5,337v7M342,353.5h7M345.5,350v7M342,346.5h7M345.5,343v7M342,343.5h7M345.5,340v7M342,343.5h7M345.5,340v7M342,331.5h7M345.5,328v7M343,336.5h7M346.5,333v7M343,341.5h7M346.5,338v7M343,343.5h7M346.5,340v7M343,335.5h7M346.5,332v7M343,350.5h7M346.5,347v7M344,347.5h7M347.5,344v7M344,344.5h7M347.5,341v7M344,333.5h7M347.5,330v7M344,346.5h7M347.5,343v7M345,355.5h7M348.5,352v7M345,346.5h7M348.5,343v7M345,339.5h7M348.5,336v7M345,332.5h7M348.5,329v7M345,343.5h7M348.5,340v7M346,353.5h7M349.5,350v7M346,331.5h7M349.5,328v7M346,344.5h7M349.5,341v7M346,348.5h7M349.5,345v7M346,348.5h7M349.5,345v7M347,345.5h7M350.5,342v7M347,343.5h7M350.5,340v7M347,336.5h7M350.5,333v7M347,336.5h7M350.5,333v7M347,330.5h7M350.5,327v7M348,339.5h7M351.5,336v7M348,334.5h7M351.5,331v7M348,346.5h7M351.5,343v7M348,339.5h7M351.5,336v7M349,334.5h7M352.5,331v7M349,336.5h7M352.5,333v7M349,347.5h7M352.5,344v7M349,339.5h7M352.5,336v7M349,342.5h7M352.5,339v7M350,330.5h7M353.5,327v7M350,332.5h7M353.5,329v7M350,338.5h7M353.5,335v7M350,341.5h7M353.5,338v7M350,354.5h7M353.5,351v7M351,335.5h7M354.5,332v7M351,344.5h7M354.5,341v7M351,338.5h7M354.5,335v7M351,329.5h7M354.5,326v7M352,340.5h7M355.5,337v7M352,346.5h7M355.5,343v7M352,346.5h7M355.5,343v7M352,348.5h7M355.5,345v7M352,329.5h7M355.5,326v7M353,333.5h7M356.5,330v7M353,356.5h7M356.5,353v7M353,353.5h7M356.5,350v7M353,334.5h7M356.5,331v7M353,351.5h7M356.5,348v7M354,338.5h7M357.5,335v7M354,334.5h7M357.5,331v7M354,346.5h7M357.5,343v7M354,354.5h7M357.5,351v7M354,347.5h7M357.5,344v7M355,339.5h7M358.5,336v7M355,342.5h7M358.5,339v7M355,330.5h7M358.5,327v7M355,330.5h7M358.5,327v7M356,330.5h7M359.5,327v7M356,343.5h7M359.5,340v7M356,345.5h7M359.5,342v7M356,350.5h7M359.5,347v7M356,327.5h7M359.5,324v7M357,338.5h7M360.5,335v7M357,349.5h7M360.5,346v7M357,332.5h7M360.5,329v7M357,337.5h7M360.5,334v7M357,339.5h7M360.5,336v7M358,346.5h7M361.5,343v7M358,334.5h7M361.5,331v7M358,350.5h7M361.5,347v7M358,337.5h7M361.5,334v7M359,354.5h7M362.5,351v7M359,337.5h7M362.5,334v7M359,337.5h7M362.5,334v7M359,355.5h7M362.5,352v7M359,339.5h7M362.5,336v7M360,352.5h7M363.5,349v7M360,333.5h7M363.5,330v7M360,347.5h7M363.5,344v7M360,340.5h7M363.5,337v7M360,347.5h7M363.5,344v7M361,343.5h7M364.5,340v7M361,331.5h7M364.5,328v7M361,340.5h7M364.5,337v7M361,329.5h7M364.5,326v7M361,356.5h7M364.5,353v7M362,338.5h7M365.5,335v7M362,346.5h7M365.5,343v7M362,329.5h7M365.5,326v7M362,342.5h7M365.5,339v7M363,346.5h7M366.5,343v7M363,333.5h7M366.5,330v7M363,332.5h7M366.5,329v7M363,340.5h7M366.5,337v7M363,337.5h7M366.5,334v7M364,335.5h7M367.5,332v7M364,348.5h7M367.5,345v7M364,334.5h7M367.5,331v7M364,340.5h7M367.5,337v7M364,353.5h7M367.5,350v7M365,352.5h7M368.5,349v7M365,355.5h7M368.5,352v7M365,329.5h7M368.5,326v7M365,356.5h7M368.5,353v7M366,339.5h7M369.5,336v7M366,334.5h7M369.5,331v7M366,332.5h7M369.5,329v7M366,331.5h7M369.5,328v7M366,347.5h7M369.5,344v7M367,330.5h7M370.5,327v7M367,340.5h7M370.5,337v7M367,335.5h7M370.5,332v7M367,336.5h7M370.5,333v7M367,337.5h7M370.5,334v7M368,337.5h7M371.5,334v7M368,344.5h7M371.5,341v7M368,349.5h7M371.5,346v7M368,348.5h7M371.5,345v7M368,337.5h7M371.5,334v7M369,340.5h7M372.5,337v7M369,335.5h7M372.5,332v7M369,347.5h7M372.5,344v7M369,352.5h7M372.5,349v7M370,349.5h7M373.5,346v7M370,337.5h7M373.5,334v7M370,346.5h7M373.5,343v7M370,348.5h7M373.5,345v7M370,339.5h7M373.5,336v7M371,329.5h7M374.5,326v7M371,347.5h7M374.5,344v7M371,333.5h7M374.5,330v7M371,330.5h7M374.5,327v7M371,341.5h7M374.5,338v7M372,335.5h7M375.5,332v7M372,335.5h7M375.5,332v7M372,349.5h7M375.5,346v7M372,340.5h7M375.5,337v7M373,337.5h7M376.5,334v7M373,352.5h7M376.5,349v7M373,338.5h7M376.5,335v7M373,348.5h7M376.5,345v7M373,348.5h7M376.5,345v7M374,347.5h7M377.5,344v7M374,342.5h7M377.5,339v7M374,351.5h7M377.5,348v7M374,357.5h7M377.5,354v7M374,331.5h7M377.5,328v7M375,335.5h7M378.5,332v7M375,355.5h7M378.5,352v7M375,345.5h7M378.5,342v7M375,348.5h7M378.5,345v7M375,339.5h7M378.5,336v7M376,350.5h7M379.5,347v7M376,344.5h7M379.5,341v7M376,344.5h7M379.5,341v7M376,341.5h7M379.5,338v7M377,332.5h7M380.5,329v7M377,343.5h7M380.5,340v7M377,340.5h7M380.5,337v7M377,336.5h7M380.5,333v7M377,341.5h7M380.5,338v7M378,341.5h7M381.5,338v7M378,348.5h7M381.5,345v7M378,352.5h7M381.5,349v7M378,356.5h7M381.5,353v7M378,342.5h7M381.5,339v7M379,349.5h7M382.5,346v7M379,338.5h7M382.5,335v7M379,346.5h7M382.5,343v7M379,328.5h7M382.5,325v7M380,334.5h7M383.5,331v7M380,331.5h7M383.5,328v7M380,344.5h7M383.5,341v7M380,354.5h7M383.5,351v7M380,354.5h7M383.5,351v7M381,332.5h7M384.5,329v7M381,356.5h7M384.5,353v7M381,333.5h7M384.5,330v7M381,351.5h7M384.5,348v7M381,345.5h7M384.5,342v7M382,357.5h7M385.5,354v7M382,344.5h7M385.5,341v7M382,332.5h7M385.5,329v7M382,334.5h7M385.5,331v7M382,334.5h7M385.5,331v7M383,341.5h7M386.5,338v7M383,355.5h7M386.5,352v7M383,336.5h7M386.5,333v7M383,342.5h7M386.5,339v7M384,344.5h7M387.5,341v7M384,335.5h7M387.5,332v7M384,353.5h7M387.5,350v7M384,343.5h7M387.5,340v7M384,341.5h7M387.5,338v7M385,340.5h7M388.5,337v7M385,336.5h7M388.5,333v7M385,337.5h7M388.5,334v7M385,336.5h7M388.5,333v7M385,346.5h7M388.5,343v7M386,344.5h7M389.5,341v7M386,344.5h7M389.5,341v7M386,343.5h7M389.5,340v7M386,337.5h7M389.5,334v7M387,337.5h7M390.5,334v7M387,346.5h7M390.5,343v7M387,357.5h7M390.5,354v7M387,343.5h7M390.5,340v7M387,352.5h7M390.5,349v7M388,344.5h7M391.5,341v7M388,338.5h7M391.5,335v7M388,358.5h7M391.5,355v7M388,332.5h7M391.5,329v7M388,331.5h7M391.5,328v7M389,351.5h7M392.5,348v7M389,333.5h7M392.5,330v7M389,338.5h7M392.5,335v7M389,354.5h7M392.5,351v7M389,351.5h7M392.5,348v7M390,353.5h7M393.5,350v7M390,331.5h7M393.5,328v7M390,345.5h7M393.5,342v7M390,343.5h7M393.5,340v7M391,339.5h7M394.5,336v7M391,356.5h7M394.5,353v7M391,354.5h7M394.5,351v7M391,339.5h7M394.5,336v7M391,342.5h7M394.5,339v7M392,342.5h7M395.5,339v7M392,337.5h7M395.5,334v7M392,345.5h7M395.5,342v7M392,346.5h7M395.5,343v7M392,332.5h7M395.5,329v7M393,352.5h7M396.5,349v7M393,351.5h7M396.5,348v7M393,337.5h7M396.5,334v7M393,344.5h7M396.5,341v7M394,331.5h7M397.5,328v7M394,345.5h7M397.5,342v7M394,354.5h7M397.5,351v7M394,337.5h7M397.5,334v7M394,352.5h7M397.5,349v7M395,348.5h7M398.5,345v7M395,352.5h7M398.5,349v7M395,339.5h7M398.5,336v7M395,352.5h7M398.5,349v7M395,357.5h7M398.5,354v7M396,336.5h7M399.5,333v7M396,335.5h7M399.5,332v7M396,333.5h7M399.5,330v7M396,337.5h7M399.5,334v7M396,353.5h7M399.5,350v7M397,337.5h7M400.5,334v7M397,346.5h7M400.5,343v7M397,338.5h7M400.5,335v7M397,355.5h7M400.5,352v7M398,346.5h7M401.5,343v7M398,335.5h7M401.5,332v7M398,334.5h7M401.5,331v7M398,333.5h7M401.5,330v7M398,348.5h7M401.5,345v7M399,341.5h7M402.5,338v7M399,336.5h7M402.5,333v7M399,339.5h7M402.5,336v7M399,353.5h7M402.5,350v7M399,345.5h7M402.5,342v7M400,340.5h7M403.5,337v7M400,332.5h7M403.5,329v7M400,345.5h7M403.5,342v7M400,355.5h7M403.5,352v7M400,338.5h7M403.5,335v7M401,337.5h7M404.5,334v7M401,329.5h7M404.5,326v7M401,331.5h7M404.5,328v7M401,345.5h7M404.5,342v7M402,334.5h7M405.5,331v7M402,330.5h7M405.5,327v7M402,354.5h7M405.5,351v7M402,333.5h7M405.5,330v7M402,342.5h7M405.5,339v7M403,344.5h7M406.5,341v7M403,344.5h7M406.5,341v7M403,344.5h7M406.5,341v7M403,334.5h7M406.5,331v7M403,340.5h7M406.5,337v7M404,331.5h7M407.5,328v7M404,343.5h7M407.5,340v7M404,346.5h7M407.5,343v7M404,336.5h7M407.5,333v7M405,349.5h7M408.5,346v7M405,332.5h7M408.5,329v7M405,357.5h7M408.5,354v7M405,344.5h7M408.5,341v7M405,335.5h7M408.5,332v7M406,350.5h7M409.5,347v7M406,334.5h7M409.5,331v7M406,345.5h7M409.5,342v7M406,353.5h7M409.5,350v7M406,336.5h7M409.5,333v7M407,340.5h7M410.5,337v7M407,334.5h7M410.5,331v7M407,340.5h7M410.5,337v7M407,335.5h7M410.5,332v7M407,343.5h7M410.5,340v7M408,343.5h7M411.5,340v7M408,331.5h7M411.5,328v7M408,339.5h7M411.5,336v7M408,344.5h7M411.5,341v7M409,344.5h7M412.5,341v7M409,335.5h7M412.5,332v7M409,356.5h7M412.5,353v7M409,337.5h7M412.5,334v7M409,342.5h7M412.5,339v7M410,333.5h7M413.5,330v7M410,344.5h7M413.5,341v7M410,343.5h7M413.5,340v7M410,331.5h7M413.5,328v7M410,335.5h7M413.5,332v7M411,347.5h7M414.5,344v7M411,350.5h7M414.5,347v7M411,334.5h7M414.5,331v7M411,337.5h7M414.5,334v7M412,331.5h7M415.5,328v7M412,357.5h7M415.5,354v7M412,347.5h7M415.5,344v7M412,338.5h7M415.5,335v7M412,344.5h7M415.5,341v7M413,335.5h7M416.5,332v7M413,357.5h7M416.5,354v7M413,355.5h7M416.5,352v7M413,345.5h7M416.5,342v7M413,346.5h7M416.5,343v7M414,358.5h7M417.5,355v7M414,355.5h7M417.5,352v7M414,353.5h7M417.5,350v7M414,337.5h7M417.5,334v7M414,356.5h7M417.5,353v7M415,352.5h7M418.5,349v7M415,337.5h7M418.5,334v7M415,348.5h7M418.5,345v7M415,352.5h7M418.5,349v7M416,335.5h7M419.5,332v7M416,332.5h7M419.5,329v7M416,349.5h7M419.5,346v7M416,335.5h7M419.5,332v7M416,337.5h7M419.5,334v7M417,349.5h7M420.5,346v7M417,351.5h7M420.5,348v7M417,346.5h7M420.5,343v7M417,334.5h7M420.5,331v7M417,332.5h7M420.5,329v7M418,341.5h7M421.5,338v7M418,343.5h7M421.5,340v7M418,336.5h7M421.5,333v7M418,346.5h7M421.5,343v7M419,344.5h7M422.5,341v7M419,345.5h7M422.5,342v7M419,342.5h7M422.5,339v7M419,341.5h7M422.5,338v7M419,339.5h7M422.5,336v7M420,332.5h7M423.5,329v7M420,342.5h7M423.5,339v7M420,349.5h7M423.5,346v7M420,358.5h7M423.5,355v7M420,345.5h7M423.5,342v7M421,340.5h7M424.5,337v7M421,346.5h7M424.5,343v7M421,348.5h7M424.5,345v7M421,347.5h7M424.5,344v7M421,337.5h7M424.5,334v7M422,344.5h7M425.5,341v7M422,351.5h7M425.5,348v7M422,349.5h7M425.5,346v7M422,330.5h7M425.5,327v7M423,332.5h7M426.5,329v7M423,342.5h7M426.5,339v7M423,336.5h7M426.5,333v7M423,341.5h7M426.5,338v7M423,341.5h7M426.5,338v7M424,351.5h7M427.5,348v7M424,345.5h7M427.5,342v7M424,344.5h7M427.5,341v7M424,354.5h7M427.5,351v7M424,330.5h7M427.5,327v7M425,341.5h7M428.5,338v7M425,346.5h7M428.5,343v7M425,346.5h7M428.5,343v7M425,342.5h7M428.5,339v7M426,340.5h7M429.5,337v7M426,347.5h7M429.5,344v7M426,337.5h7M429.5,334v7M426,353.5h7M429.5,350v7M426,342.5h7M429.5,339v7M427,342.5h7M430.5,339v7M427,353.5h7M430.5,350v7M427,337.5h7M430.5,334v7M427,345.5h7M430.5,342v7M427,344.5h7M430.5,341v7M428,329.5h7M431.5,326v7M428,338.5h7M431.5,335v7M428,335.5h7M431.5,332v7M428,338.5h7M431.5,335v7M428,341.5h7M431.5,338v7M429,340.5h7M432.5,337v7M429,342.5h7M432.5,339v7M429,353.5h7M432.5,350v7M429,338.5h7M432.5,335v7M430,342.5h7M433.5,339v7M430,355.5h7M433.5,352v7M430,334.5h7M433.5,331v7M430,337.5h7M433.5,334v7M430,337.5h7M433.5,334v7M431,346.5h7M434.5,343v7M431,344.5h7M434.5,341v7M431,343.5h7M434.5,340v7M431,335.5h7M434.5,332v7M431,349.5h7M434.5,346v7M432,345.5h7M435.5,342v7M432,333.5h7M435.5,330v7M432,334.5h7M435.5,331v7M432,346.5h7M435.5,343v7M433,345.5h7M436.5,342v7M433,337.5h7M436.5,334v7M433,333.5h7M436.5,330v7M433,351.5h7M436.5,348v7M433,350.5h7M436.5,347v7M434,348.5h7M437.5,345v7M434,346.5h7M437.5,343v7M434,349.5h7M437.5,346v7M434,336.5h7M437.5,333v7M434,345.5h7M437.5,342v7M435,337.5h7M438.5,334v7M435,333.5h7M438.5,330v7M435,350.5h7M438.5,347v7M435,347.5h7M438.5,344v7M435,343.5h7M438.5,340v7M436,349.5h7M439.5,346v7M436,341.5h7M439.5,338v7M436,344.5h7M439.5,341v7M436,346.5h7M439.5,343v7M437,339.5h7M440.5,336v7M437,342.5h7M440.5,339v7M437,342.5h7M440.5,339v7M437,348.5h7M440.5,345v7M437,333.5h7M440.5,330v7M438,343.5h7M441.5,340v7M438,357.5h7M441.5,354v7M438,344.5h7M441.5,341v7M438,349.5h7M441.5,346v7M438,356.5h7M441.5,353v7M439,339.5h7M442.5,336v7M439,337.5h7M442.5,334v7M439,356.5h7M442.5,353v7M439,356.5h7M442.5,353v7M440,345.5h7M443.5,342v7M440,352.5h7M443.5,349v7M440,336.5h7M443.5,333v7M440,342.5h7M443.5,339v7M440,349.5h7M443.5,346v7M441,330.5h7M444.5,327v7M441,332.5h7M444.5,329v7M441,337.5h7M444.5,334v7M441,339.5h7M444.5,336v7M441,339.5h7M444.5,336v7M442,343.5h7M445.5,340v7M442,335.5h7M445.5,332v7M442,355.5h7M445.5,352v7M442,344.5h7M445.5,341v7M442,347.5h7M445.5,344v7M443,356.5h7M446.5,353v7M443,344.5h7M446.5,341v7M443,345.5h7M446.5,342v7M443,340.5h7M446.5,337v7M444,331.5h7M447.5,328v7M444,328.5h7M447.5,325v7M444,354.5h7M447.5,351v7M444,331.5h7M447.5,328v7M444,334.5h7M447.5,331v7M445,339.5h7M448.5,336v7M445,342.5h7M448.5,339v7M445,337.5h7M448.5,334v7M445,338.5h7M448.5,335v7M445,340.5h7M448.5,337v7M446,341.5h7M449.5,338v7M446,346.5h7M449.5,343v7M446,343.5h7M449.5,340v7M446,342.5h7M449.5,339v7M447,332.5h7M450.5,329v7M447,333.5h7M450.5,330v7M447,338.5h7M450.5,335v7M447,337.5h7M450.5,334v7M447,350.5h7M450.5,347v7M448,343.5h7M451.5,340v7M448,340.5h7M451.5,337v7M448,337.5h7M451.5,334v7M448,354.5h7M451.5,351v7M448,338.5h7M451.5,335v7M449,348.5h7M452.5,345v7M449,356.5h7M452.5,353v7M449,352.5h7M452.5,349v7M449,332.5h7M452.5,329v7M449,351.5h7M452.5,348v7M450,349.5h7M453.5,346v7M450,340.5h7M453.5,337v7M450,336.5h7M453.5,333v7M450,342.5h7M453.5,339v7M451,339.5h7M454.5,336v7M451,332.5h7M454.5,329v7M451,339.5h7M454.5,336v7M451,346.5h7M454.5,343v7M451,336.5h7M454.5,333v7M452,346.5h7M455.5,343v7M452,336.5h7M455.5,333v7M452,338.5h7M455.5,335v7M452,345.5h7M455.5,342v7M452,335.5h7M455.5,332v7M453,332.5h7M456.5,329v7M453,342.5h7M456.5,339v7M453,333.5h7M456.5,330v7M453,341.5h7M456.5,338v7M453,340.5h7M456.5,337v7M454,346.5h7M457.5,343v7M454,351.5h7M457.5,348v7M454,333.5h7M457.5,330v7M454,343.5h7M457.5,340v7M455,355.5h7M458.5,352v7M455,338.5h7M458.5,335v7M455,347.5h7M458.5,344v7M455,334.5h7M458.5,331v7M455,342.5h7M458.5,339v7M456,348.5h7M459.5,345v7M456,338.5h7M459.5,335v7M456,342.5h7M459.5,339v7M456,352.5h7M459.5,349v7M456,337.5h7M459.5,334v7M457,331.5h7M460.5,328v7M457,348.5h7M460.5,345v7M457,339.5h7M460.5,336v7M457,332.5h7M460.5,329v7M458,333.5h7M461.5,330v7M458,339.5h7M461.5,336v7M458,334.5h7M461.5,331v7M458,336.5h7M461.5,333v7M458,341.5h7M461.5,338v7M459,351.5h7M462.5,348v7M459,355.5h7M462.5,352v7M459,348.5h7M462.5,345v7M459,335.5h7M462.5,332v7M459,331.5h7M462.5,328v7M460,345.5h7M463.5,342v7M460,342.5h7M463.5,339v7M460,344.5h7M463.5,341v7M460,338.5h7M463.5,335v7M460,332.5h7M463.5,329v7M461,347.5h7M464.5,344v7M461,348.5h7M464.5,345v7M461,355.5h7M464.5,352v7M461,343.5h7M464.5,340v7M462,335.5h7M465.5,332v7M462,335.5h7M465.5,332v7M462,340.5h7M465.5,337v7M462,346.5h7M465.5,343v7M462,349.5h7M465.5,346v7M463,334.5h7M466.5,331v7M463,336.5h7M466.5,333v7M463,347.5h7M466.5,344v7M463,338.5h7M466.5,335v7M463,341.5h7M466.5,338v7M464,345.5h7M467.5,342v7M464,328.5h7M467.5,325v7M464,352.5h7M467.5,349v7M464,344.5h7M467.5,341v7M465,328.5h7M468.5,325v7M465,344.5h7M468.5,341v7M465,331.5h7M468.5,328v7M465,341.5h7M468.5,338v7M465,347.5h7M468.5,344v7M466,333.5h7M469.5,330v7M466,350.5h7M469.5,347v7M466,332.5h7M469.5,329v7M466,353.5h7M469.5,350v7M466,346.5h7M469.5,343v7M467,343.5h7M470.5,340v7M467,333.5h7M470.5,330v7M467,339.5h7M470.5,336v7M467,345.5h7M470.5,342v7M467,344.5h7M470.5,341v7M468,340.5h7M471.5,337v7M468,345.5h7M471.5,342v7M468,338.5h7M471.5,335v7M468,335.5h7M471.5,332v7M469,355.5h7M472.5,352v7M469,354.5h7M472.5,351v7M469,340.5h7M472.5,337v7M469,354.5h7M472.5,351v7M469,352.5h7M472.5,349v7M470,332.5h7M473.5,329v7M470,349.5h7M473.5,346v7M470,354.5h7M473.5,351v7M470,340.5h7M473.5,337v7M470,338.5h7M473.5,335v7M471,353.5h7M474.5,350v7M471,345.5h7M474.5,342v7M471,345.5h7M474.5,342v7M471,343.5h7M474.5,340v7M472,345.5h7M475.5,342v7M472,342.5h7M475.5,339v7M472,339.5h7M475.5,336v7M472,341.5h7M475.5,338v7M472,343.5h7M475.5,340v7M473,340.5h7M476.5,337v7M473,344.5h7M476.5,341v7M473,335.5h7M476.5,332v7M473,349.5h7M476.5,346v7M473,341.5h7M476.5,338v7M474,350.5h7M477.5,347v7M474,337.5h7M477.5,334v7M474,331.5h7M477.5,328v7M474,349.5h7M477.5,346v7M474,333.5h7M477.5,330v7M475,351.5h7M478.5,348v7M475,342.5h7M478.5,339v7M475,347.5h7M478.5,344v7M475,339.5h7M478.5,336v7M476,331.5h7M479.5,328v7M476,344.5h7M479.5,341v7M476,356.5h7M479.5,353v7M476,342.5h7M479.5,339v7M476,342.5h7M479.5,339v7M477,356.5h7M480.5,353v7M477,337.5h7M480.5,334v7M477,334.5h7M480.5,331v7M477,333.5h7M480.5,330v7M477,339.5h7M480.5,336v7M478,331.5h7M481.5,328v7M478,343.5h7M481.5,340v7M478,336.5h7M481.5,333v7M478,346.5h7M481.5,343v7M479,340.5h7M482.5,337v7M479,336.5h7M482.5,333v7M479,343.5h7M482.5,340v7M479,347.5h7M482.5,344v7M479,336.5h7M482.5,333v7M480,355.5h7M483.5,352v7M480,347.5h7M483.5,344v7M480,341.5h7M483.5,338v7M480,356.5h7M483.5,353v7M480,333.5h7M483.5,330v7M481,338.5h7M484.5,335v7M481,353.5h7M484.5,350v7M481,342.5h7M484.5,339v7M481,335.5h7M484.5,332v7M481,350.5h7M484.5,347v7M482,347.5h7M485.5,344v7M482,338.5h7M485.5,335v7M482,353.5h7M485.5,350v7M482,336.5h7M485.5,333v7M483,346.5h7M486.5,343v7M483,334.5h7M486.5,331v7M483,334.5h7M486.5,331v7M483,355.5h7M486.5,352v7M483,340.5h7M486.5,337v7M484,345.5h7M487.5,342v7M484,336.5h7M487.5,333v7M484,345.5h7M487.5,342v7M484,336.5h7M487.5,333v7M484,339.5h7M487.5,336v7M485,330.5h7M488.5,327v7M485,330.5h7M488.5,327v7M485,346.5h7M488.5,343v7M485,336.5h7M488.5,333v7M486,343.5h7M489.5,340v7M486,339.5h7M489.5,336v7M486,344.5h7M489.5,341v7M486,341.5h7M489.5,338v7M486,334.5h7M489.5,331v7M487,335.5h7M490.5,332v7M487,344.5h7M490.5,341v7M487,344.5h7M490.5,341v7M487,340.5h7M490.5,337v7M487,337.5h7M490.5,334v7M488,352.5h7M491.5,349v7M488,340.5h7M491.5,337v7M488,329.5h7M491.5,326v7M488,339.5h7M491.5,336v7M488,347.5h7M491.5,344v7M489,339.5h7M492.5,336v7M489,348.5h7M492.5,345v7M489,336.5h7M492.5,333v7M489,334.5h7M492.5,331v7M490,341.5h7M493.5,338v7M490,339.5h7M493.5,336v7M490,336.5h7M493.5,333v7M490,345.5h7M493.5,342v7M490,337.5h7M493.5,334v7M491,332.5h7M494.5,329v7M491,351.5h7M494.5,348v7M491,356.5h7M494.5,353v7M491,341.5h7M494.5,338v7M491,351.5h7M494.5,348v7M492,336.5h7M495.5,333v7M492,340.5h7M495.5,337v7M492,341.5h7M495.5,338v7M492,340.5h7M495.5,337v7M493,345.5h7M496.5,342v7M493,340.5h7M496.5,337v7M493,350.5h7M496.5,347v7M493,350.5h7M496.5,347v7M493,356.5h7M496.5,353v7M494,342.5h7M497.5,339v7M494,351.5h7M497.5,348v7M494,331.5h7M497.5,328v7M494,339.5h7M497.5,336v7M494,331.5h7M497.5,328v7M495,355.5h7M498.5,352v7M495,342.5h7M498.5,339v7M495,349.5h7M498.5,346v7M495,338.5h7M498.5,335v7M495,354.5h7M498.5,351v7M496,354.5h7M499.5,351v7M496,344.5h7M499.5,341v7M496,337.5h7M499.5,334v7M496,336.5h7M499.5,333v7M497,343.5h7M500.5,340v7M497,338.5h7M500.5,335v7M497,355.5h7M500.5,352v7M497,351.5h7M500.5,348v7M497,333.5h7M500.5,330v7M498,352.5h7M501.5,349v7M498,342.5h7M501.5,339v7M498,336.5h7M501.5,333v7M498,348.5h7M501.5,345v7M498,339.5h7M501.5,336v7M499,357.5h7M502.5,354v7M499,343.5h7M502.5,340v7M499,337.5h7M502.5,334v7M499,341.5h7M502.5,338v7M500,342.5h7M503.5,339v7M500,352.5h7M503.5,349v7M500,343.5h7M503.5,340v7M500,346.5h7M503.5,343v7M500,343.5h7M503.5,340v7M501,351.5h7M504.5,348v7M501,341.5h7M504.5,338v7M501,341.5h7M504.5,338v7M501,338.5h7M504.5,335v7M501,335.5h7M504.5,332v7M502,338.5h7M505.5,335v7M502,340.5h7M505.5,337v7M502,342.5h7M505.5,339v7M502,333.5h7M505.5,330v7M502,343.5h7M505.5,340v7M503,340.5h7M506.5,337v7M503,353.5h7M506.5,350v7M503,339.5h7M506.5,336v7M503,344.5h7M506.5,341v7M504,339.5h7M507.5,336v7M504,335.5h7M507.5,332v7M504,334.5h7M507.5,331v7M504,343.5h7M507.5,340v7M504,334.5h7M507.5,331v7M505,344.5h7M508.5,341v7M505,335.5h7M508.5,332v7M505,346.5h7M508.5,343v7M505,339.5h7M508.5,336v7M505,336.5h7M508.5,333v7M506,345.5h7M509.5,342v7M506,348.5h7M509.5,345v7M506,346.5h7M509.5,343v7M506,347.5h7M509.5,344v7M506,339.5h7M509.5,336v7M507,352.5h7M510.5,349v7M507,351.5h7M510.5,348v7M507,346.5h7M510.5,343v7M507,341.5h7M510.5,338v7M508,336.5h7M511.5,333v7M508,344.5h7M511.5,341v7M508,353.5h7M511.5,350v7M508,356.5h7M511.5,353v7M508,338.5h7M511.5,335v7M509,348.5h7M512.5,345v7M509,345.5h7M512.5,342v7M509,334.5h7M512.5,331v7M509,346.5h7M512.5,343v7M509,338.5h7M512.5,335v7M510,341.5h7M513.5,338v7M510,338.5h7M513.5,335v7M510,349.5h7M513.5,346v7M510,341.5h7M513.5,338v7M511,340.5h7M514.5,337v7M511,329.5h7M514.5,326v7M511,351.5h7M514.5,348v7M511,340.5h7M514.5,337v7M511,348.5h7M514.5,345v7M512,333.5h7M515.5,330v7M512,337.5h7M515.5,334v7M512,347.5h7M515.5,344v7M512,342.5h7M515.5,339v7M512,346.5h7M515.5,343v7M513,339.5h7M516.5,336v7M513,347.5h7M516.5,344v7M513,339.5h7M516.5,336v7M513,347.5h7M516.5,344v7M513,339.5h7M516.5,336v7M514,344.5h7M517.5,341v7M514,344.5h7M517.5,341v7M514,342.5h7M517.5,339v7M514,347.5h7M517.5,344v7M515,338.5h7M518.5,335v7M515,350.5h7M518.5,347v7M515,340.5h7M518.5,337v7M515,336.5h7M518.5,333v7M515,343.5h7M518.5,340v7M516,344.5h7M519.5,341v7M516,337.5h7M519.5,334v7M516,334.5h7M519.5,331v7M516,340.5h7M519.5,337v7M516,346.5h7M519.5,343v7M517,342.5h7M520.5,339v7M517,346.5h7M520.5,343v7M517,356.5h7M520.5,353v7M517,339.5h7M520.5,336v7M518,336.5h7M521.5,333v7M518,352.5h7M521.5,349v7M518,356.5h7M521.5,353v7M518,350.5h7M521.5,347v7M518,334.5h7M521.5,331v7M519,347.5h7M522.5,344v7M519,340.5h7M522.5,337v7M519,340.5h7M522.5,337v7M519,347.5h7M522.5,344v7M519,339.5h7M522.5,336v7M520,344.5h7M523.5,341v7M520,333.5h7M523.5,330v7M520,340.5h7M523.5,337v7M520,342.5h7M523.5,339v7M520,338.5h7M523.5,335v7M521,334.5h7M524.5,331v7M521,354.5h7M524.5,351v7M521,340.5h7M524.5,337v7M521,345.5h7M524.5,342v7M522,355.5h7M525.5,352v7M522,334.5h7M525.5,331v7M522,343.5h7M525.5,340v7M522,351.5h7M525.5,348v7M522,338.5h7M525.5,335v7M523,338.5h7M526.5,335v7M523,329.5h7M526.5,326v7M523,340.5h7M526.5,337v7M523,337.5h7M526.5,334v7M523,350.5h7M526.5,347v7M524,354.5h7M527.5,351v7M524,345.5h7M527.5,342v7M524,332.5h7M527.5,329v7M524,348.5h7M527.5,345v7M525,339.5h7M528.5,336v7M525,336.5h7M528.5,333v7M525,343.5h7M528.5,340v7M525,346.5h7M528.5,343v7M525,349.5h7M528.5,346v7M526,344.5h7M529.5,341v7M526,335.5h7M529.5,332v7M526,355.5h7M529.5,352v7M526,351.5h7M529.5,348v7M526,350.5h7M529.5,347v7M527,354.5h7M530.5,351v7M527,349.5h7M530.5,346v7M527,343.5h7M530.5,340v7M527,340.5h7M530.5,337v7M527,337.5h7M530.5,334v7M528,338.5h7M531.5,335v7M528,337.5h7M531.5,334v7M528,338.5h7M531.5,335v7M528,337.5h7M531.5,334v7M529,351.5h7M532.5,348v7M529,337.5h7M532.5,334v7M529,352.5h7M532.5,349v7M529,348.5h7M532.5,345v7M529,335.5h7M532.5,332v7M530,346.5h7M533.5,343v7M530,337.5h7M533.5,334v7M530,349.5h7M533.5,346v7M530,355.5h7M533.5,352v7M530,333.5h7M533.5,330v7M531,348.5h7M534.5,345v7M531,342.5h7M534.5,339v7M531,331.5h7M534.5,328v7M531,351.5h7M534.5,348v7M532,349.5h7M535.5,346v7M532,346.5h7M535.5,343v7M532,335.5h7M535.5,332v7M532,336.5h7M535.5,333v7M532,337.5h7M535.5,334v7M533,347.5h7M536.5,344v7M533,345.5h7M536.5,342v7M533,343.5h7M536.5,340v7M533,350.5h7M536.5,347v7M533,335.5h7M536.5,332v7M534,328.5h7M537.5,325v7M534,333.5h7M537.5,330v7M534,324.5h7M537.5,321v7M534,334.5h7M537.5,331v7M534,329.5h7M537.5,326v7M535,329.5h7M538.5,326v7M535,334.5h7M538.5,331v7M535,329.5h7M538.5,326v7M535,325.5h7M538.5,322v7M536,340.5h7M539.5,337v7M536,340.5h7M539.5,337v7M536,330.5h7M539.5,327v7M536,329.5h7M539.5,326v7M536,335.5h7M539.5,332v7M537,336.5h7M540.5,333v7M537,340.5h7M540.5,337v7M537,341.5h7M540.5,338v7M537,336.5h7M540.5,333v7M537,328.5h7M540.5,325v7M538,347.5h7M541.5,344v7M538,340.5h7M541.5,337v7M538,334.5h7M541.5,331v7M538,336.5h7M541.5,333v7M539,330.5h7M542.5,327v7M539,339.5h7M542.5,336v7M539,326.5h7M542.5,323v7M539,343.5h7M542.5,340v7M539,335.5h7M542.5,332v7M540,331.5h7M543.5,328v7M540,341.5h7M543.5,338v7M540,330.5h7M543.5,327v7M540,333.5h7M543.5,330v7M540,331.5h7M543.5,328v7M541,336.5h7M544.5,333v7M541,336.5h7M544.5,333v7M541,339.5h7M544.5,336v7M541,338.5h7M544.5,335v7M541,340.5h7M544.5,337v7M542,337.5h7M545.5,334v7M542,323.5h7M545.5,320v7M542,326.5h7M545.5,323v7M542,331.5h7M545.5,328v7M543,332.5h7M546.5,329v7M543,330.5h7M546.5,327v7M543,339.5h7M546.5,336v7M543,328.5h7M546.5,325v7M543,328.5h7M546.5,325v7M544,334.5h7M547.5,331v7M544,351.5h7M547.5,348v7M544,339.5h7M547.5,336v7M544,325.5h7M547.5,322v7M544,331.5h7M547.5,328v7M545,332.5h7M548.5,329v7M545,328.5h7M548.5,325v7M545,327.5h7M548.5,324v7M545,332.5h7M548.5,329v7M546,340.5h7M549.5,337v7M546,332.5h7M549.5,329v7M546,337.5h7M549.5,334v7M546,323.5h7M549.5,320v7M546,335.5h7M549.5,332v7M547,324.5h7M550.5,321v7M547,341.5h7M550.5,338v7M547,336.5h7M550.5,333v7M547,341.5h7M550.5,338v7M547,341.5h7M550.5,338v7M548,337.5h7M551.5,334v7M548,333.5h7M551.5,330v7M548,340.5h7M551.5,337v7M548,335.5h7M551.5,332v7M548,336.5h7M551.5,333v7M549,346.5h7M552.5,343v7M549,340.5h7M552.5,337v7M549,339.5h7M552.5,336v7M549,333.5h7M552.5,330v7M550,328.5h7M553.5,325v7M550,324.5h7M553.5,321v7M550,331.5h7M553.5,328v7M550,324.5h7M553.5,321v7M550,328.5h7M553.5,325v7M551,343.5h7M554.5,340v7M551,334.5h7M554.5,331v7M551,332.5h7M554.5,329v7M551,327.5h7M554.5,324v7M551,349.5h7M554.5,346v7M552,347.5h7M555.5,344v7M552,338.5h7M555.5,335v7M552,328.5h7M555.5,325v7M552,324.5h7M555.5,321v7M553,330.5h7M556.5,327v7M553,325.5h7M556.5,322v7M553,342.5h7M556.5,339v7M553,339.5h7M556.5,336v7M553,336.5h7M556.5,333v7M554,334.5h7M557.5,331v7M554,332.5h7M557.5,329v7M554,338.5h7M557.5,335v7M554,328.5h7M557.5,325v7M554,335.5h7M557.5,332v7M555,332.5h7M558.5,329v7M555,333.5h7M558.5,330v7M555,337.5h7M558.5,334v7M555,333.5h7M558.5,330v7M555,337.5h7M558.5,334v7M556,333.5h7M559.5,330v7M556,341.5h7M559.5,338v7M86,353.5h7M89.5,350v7M93,353.5h7M96.5,350v7M101,356.5h7M104.5,353v7M104,350.5h7M107.5,347v7M107,345.5h7M110.5,342v7M112,360.5h7M115.5,357v7M189,367.5h7M192.5,364v7M217,368.5h7M220.5,365v7M223,366.5h7M226.5,363v7M226,367.5h7M229.5,364v7M304,370.5h7M307.5,367v7M323,362.5h7M326.5,359v7M366,365.5h7M369.5,362v7M378,361.5h7M381.5,358v7M389,368.5h7M392.5,365v7M410,358.5h7M413.5,355v7M437,371.5h7M440.5,368v7M448,370.5h7M451.5,367v7M453,369.5h7M456.5,366v7M455,370.5h7M458.5,367v7M465,370.5h7M468.5,367v7M496,371.5h7M499.5,368v7M499,372.5h7M502.5,369v7M316,371.5h7M319.5,368v7M317,369.5h7M320.5,366v7M319,370.5h7M322.5,367v7M315,368.5h7M318.5,365v7M327,368.5h7M330.5,365v7M324,370.5h7M327.5,367v7M326,369.5h7M329.5,366v7M317,368.5h7M320.5,365v7M328,371.5h7M331.5,368v7M320,371.5h7M323.5,368v7M326,370.5h7M329.5,367v7M318,371.5h7M321.5,368v7M336,367.5h7M339.5,364v7M347,367.5h7M350.5,364v7M342,369.5h7M345.5,366v7M343,368.5h7M346.5,365v7M349,370.5h7M352.5,367v7M335,369.5h7M338.5,366v7M352,369.5h7M355.5,366v7M341,370.5h7M344.5,367v7M336,369.5h7M339.5,366v7M339,369.5h7M342.5,366v7M347,369.5h7M350.5,366v7M347,369.5h7M350.5,366v7M344,368.5h7M347.5,365v7M347,370.5h7M350.5,367v7M336,367.5h7M339.5,364v7M364,370.5h7M367.5,367v7M363,369.5h7M366.5,366v7M362,371.5h7M365.5,368v7M360,370.5h7M363.5,367v7M363,370.5h7M366.5,367v7M361,369.5h7M364.5,366v7M370,369.5h7M373.5,366v7M374,369.5h7M377.5,366v7M373,368.5h7M376.5,365v7M374,368.5h7M377.5,365v7M413,373.5h7M416.5,370v7M407,372.5h7M410.5,369v7M409,372.5h7M412.5,369v7M412,371.5h7M415.5,368v7M411,373.5h7M414.5,370v7M413,373.5h7M416.5,370v7M421,369.5h7M424.5,366v7M421,370.5h7M424.5,367v7M415,369.5h7M418.5,366v7M420,367.5h7M423.5,364v7M428,372.5h7M431.5,369v7M428,373.5h7M431.5,370v7M428,372.5h7M431.5,369v7M95,306.5h7M98.5,303v7M121,314.5h7M124.5,311v7M176,311.5h7M179.5,308v7M446,326.5h7M449.5,323v7M465,321.5h7M468.5,318v7M538,323.5h7M541.5,320v7" stroke="#9400d3" stroke-width="1" fill="none" shape-rendering="crispEdges"/>
<path d="M82,431.5h5M613,431.5h-5M82,379.5h5M613,379.5h-5M82,328.5h5M613,328.5h-5M82,276.5h5M613,276.5h-5M82,224.5h5M613,224.5h-5M82,172.5h5M613,172.5h-5M82,121.5h5M613,121.5h-5M82,69.5h5M613,69.5h-5M82.5,432v-5M82.5,45v5M135.5,432v-5M135.5,45v5M188.5,432v-5M188.5,45v5M241.5,432v-5M241.5,45v5M294.5,432v-5M294.5,45v5M347.5,432v-5M347.5,45v5M400.5,432v-5M400.5,45v5M453.5,432v-5M453.5,45v5M506.5,432v-5M506.5,45v5M559.5,432v-5M559.5,45v5M612.5,432v-5M612.5,45v5" stroke="#000" stroke-width="1" fill="none" shape-rendering="crispEdges"/>
<rect x="82.5" y="45.5" width="530" height="386" fill="none" stroke="#000" stroke-width="1" shape-rendering="crispEdges"/>
</svg>
</body></html>
